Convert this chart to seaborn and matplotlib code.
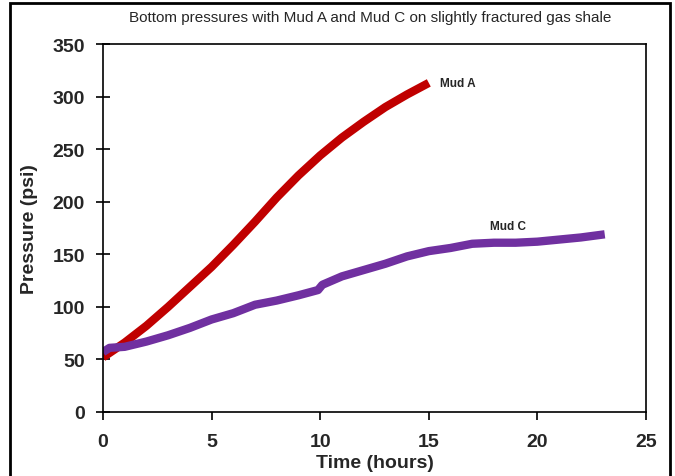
import matplotlib
matplotlib.use("Agg")
import matplotlib.pyplot as plt
import seaborn as sns
import pandas as pd
from matplotlib.patches import Rectangle

# Data
time_a = [0, 0.5, 1, 2, 3, 4, 5, 6, 7, 8, 9, 10, 11, 12, 13, 14, 15]
pressure_a = [52, 59, 66, 82, 100, 119, 138, 159, 181, 204, 225, 244, 261, 276, 290, 302, 313]
time_c = [0, 0.3, 1, 2, 3, 4, 5, 6, 7, 8, 9, 9.9, 10.1, 11, 12, 13, 14, 15, 16, 17, 18, 19, 20, 21, 22, 23.1]
pressure_c = [57, 61, 62, 67, 73, 80, 88, 94, 102, 106, 111, 116, 121, 129, 135, 141, 148, 153, 156, 160, 161, 161, 162, 164, 166, 169]
series_names = ["Mud A", "Mud C"]
colors = ["#C00000", "#7030A0"]
x_ticks = [0, 5, 10, 15, 20, 25]
y_ticks = [0, 50, 100, 150, 200, 250, 300, 350]

df = pd.concat([
    pd.DataFrame({"Time": time_a, "Pressure": pressure_a, "Mud": series_names[0]}),
    pd.DataFrame({"Time": time_c, "Pressure": pressure_c, "Mud": series_names[1]}),
])

sns.set_style("ticks")
plt.rcParams["font.family"] = ["Liberation Sans", "DejaVu Sans"]

fig = plt.figure(figsize=(6.75, 4.77), dpi=100)
ax = fig.add_axes([103/675, 1-413/477, (646-103)/675, (413-45)/477])

sns.lineplot(data=df, x="Time", y="Pressure", hue="Mud", palette=colors,
             linewidth=6, ax=ax, legend=False, sort=False, estimator=None,
             solid_capstyle="butt")

ax.set_xlim(0, 25)
ax.set_ylim(0, 350)
ax.set_xticks(x_ticks)
ax.set_yticks(y_ticks)
ax.set_xticklabels([str(v) for v in x_ticks], fontsize=14, fontweight="bold")
ax.set_yticklabels([str(v) for v in y_ticks], fontsize=14, fontweight="bold")
ax.tick_params(axis="y", direction="inout", length=10, width=1.2, color="black", pad=8)
ax.tick_params(axis="x", direction="out", length=6, width=1.2, color="black", pad=9)
for s in ax.spines.values():
    s.set_visible(True)
    s.set_color("black")
    s.set_linewidth(1.2)

ax.set_xlabel("Time (hours)", fontsize=14, fontweight="bold")
ax.xaxis.set_label_coords(0.5, (413-455)/368)
ax.set_ylabel("Pressure (psi)", fontsize=14, fontweight="bold")
ax.yaxis.set_label_coords((38-103)/543, 0.5)

fig.text(370/675, 1-18/477, "Bottom pressures with Mud A and Mud C on slightly fractured gas shale",
         ha="center", va="center", fontsize=11)

ax.text(15.5, 313, "Mud A", fontsize=8.5, fontweight="bold", ha="left", va="center")
ax.text(18.65, 177, "Mud C", fontsize=8.5, fontweight="bold", ha="center", va="center")

fig.patches.append(Rectangle((10/675, -0.05), (670-10)/675, 1.05 - 4/477, transform=fig.transFigure,
                             fill=False, edgecolor="black", linewidth=2))

fig.savefig("out.png", dpi=100)
